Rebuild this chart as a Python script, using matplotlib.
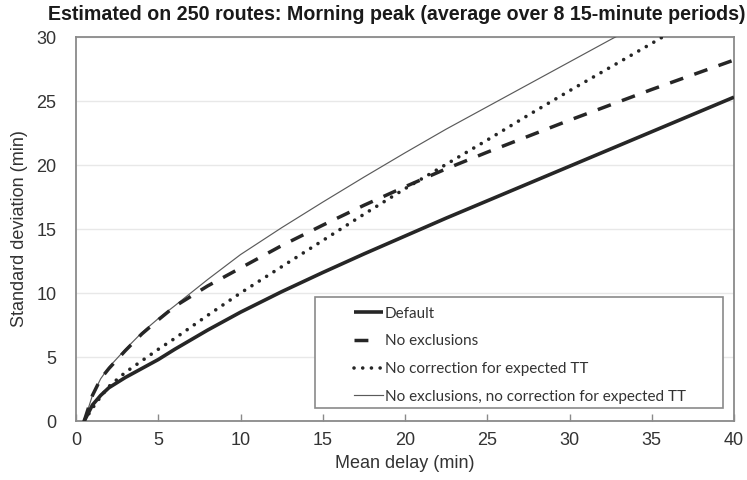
import matplotlib
matplotlib.use("Agg")
import matplotlib.pyplot as plt
from matplotlib import font_manager
from matplotlib.lines import Line2D
from matplotlib.patches import Rectangle

# Mean delay (min) and standard deviation (min) for each estimation variant
mean_delay = [0.5, 1, 1.5, 2, 3, 4, 5, 6, 8, 10, 12.5, 15, 17.5, 20,
              22.5, 25, 27.5, 30, 32.5, 35, 37.5, 40]
sd_default = [0.0, 1.25, 2.0, 2.6, 3.4, 4.1, 4.8, 5.6, 7.1, 8.5, 10.1, 11.6,
              13.05, 14.45, 15.85, 17.2, 18.55, 19.9, 21.25, 22.6, 23.95, 25.3]
sd_no_excl = [0.0, 2.0, 3.3, 4.1, 5.5, 6.8, 7.9, 8.95, 10.55, 11.95, 13.7, 15.3,
              16.85, 18.3, 19.7, 21.0, 22.25, 23.5, 24.7, 25.9, 27.05, 28.2]
sd_no_corr = [0.0, 1.0, 1.9, 2.7, 3.8, 4.7, 5.6, 6.45, 8.25, 10.0, 12.05, 14.1,
              16.15, 18.15, 20.05, 21.95, 23.9, 25.8, 27.65, 29.5, 31.4, 33.3]
sd_no_excl_no_corr = [0.0, 2.0, 3.3, 4.2, 5.6, 6.9, 8.0, 9.0, 11.05, 13.0, 15.1,
                      17.1, 19.05, 20.95, 22.8, 24.55, 26.3, 28.05, 29.8, 31.5,
                      33.2, 34.9]

series_labels = ["Default", "No exclusions", "No correction for expected TT",
                 "No exclusions, no correction for expected TT"]
x_ticks = [0, 5, 10, 15, 20, 25, 30, 35, 40]
y_ticks = [0, 5, 10, 15, 20, 25, 30]

title = "Estimated on 250 routes: Morning peak (average over 8 15-minute periods)"
x_label = "Mean delay (min)"
y_label = "Standard deviation (min)"

installed = {f.name for f in font_manager.fontManager.ttflist}
axis_font = "Liberation Sans"
legend_font = "Lato" if "Lato" in installed else "DejaVu Sans"

plt.rcParams["font.family"] = [axis_font, "DejaVu Sans"]

fig = plt.figure(figsize=(7.47, 4.80), dpi=100)
ax = fig.add_axes([76 / 747, 59 / 480, 658 / 747, 384 / 480])

line_color = "#262626"
dash_style = (0, (4.0, 3.4))
dot_style = (0, (0.01, 2.4))
ax.plot(mean_delay, sd_default, color=line_color, lw=2.6,
        solid_capstyle="butt", zorder=4)
ax.plot(mean_delay, sd_no_excl, color=line_color, lw=2.5,
        linestyle=dash_style, zorder=4)
ax.plot(mean_delay, sd_no_corr, color=line_color, lw=2.6,
        linestyle=dot_style, dash_capstyle="round", zorder=4)
ax.plot(mean_delay, sd_no_excl_no_corr, color="#5a5a5a", lw=0.85, zorder=3)

ax.set_xlim(0, 40)
ax.set_ylim(0, 30)
ax.set_xticks(x_ticks)
ax.set_yticks(y_ticks)
ax.tick_params(axis="x", direction="in", length=5, width=1, color="#8a8a8a",
               labelsize=13, labelcolor="#333333", pad=8)
ax.tick_params(axis="y", length=0, labelsize=13, labelcolor="#333333", pad=14)

ax.yaxis.grid(True, color="#e8e8e8", lw=1.0)
ax.set_axisbelow(True)
for s in ax.spines.values():
    s.set_color("#8a8a8a")
    s.set_linewidth(1.3)

ax.set_xlabel(x_label, fontsize=13, color="#333333", labelpad=4)
ax.set_ylabel(y_label, fontsize=13, color="#333333", labelpad=6)

fig.text(397 / 747, 1 - 15 / 480, title, ha="center", va="center",
         fontsize=14.1, fontweight="bold", color="#1a1a1a",
         family=["Liberation Sans", "DejaVu Sans"])

# Legend: proxy handles (single dash for the dashed series) and a square frame
handles = [
    Line2D([], [], color=line_color, lw=2.6, solid_capstyle="butt"),
    Line2D([], [], color=line_color, lw=2.5, linestyle=(0, (4.0, 8.0))),
    Line2D([], [], color=line_color, lw=2.6, linestyle=dot_style,
           dash_capstyle="round"),
    Line2D([], [], color="#5a5a5a", lw=0.85),
]
leg = ax.legend(handles, series_labels, loc="upper left",
                bbox_to_anchor=((349 - 76) / 658, (421 - 302) / 384),
                frameon=False, handlelength=1.95, handletextpad=0.1,
                labelspacing=0.9, borderpad=0.3, borderaxespad=0,
                prop={"family": legend_font, "size": 11})
for t in leg.get_texts():
    t.set_color("#333333")

ax.add_patch(Rectangle(((315 - 76) / 658, (421 - 408) / 384),
                       (723 - 315) / 658, (408 - 297) / 384,
                       transform=ax.transAxes, fill=True, facecolor="white",
                       edgecolor="#8a8a8a", lw=1.2, zorder=5))
leg.set_zorder(6)

fig.savefig("out.png", dpi=100)
